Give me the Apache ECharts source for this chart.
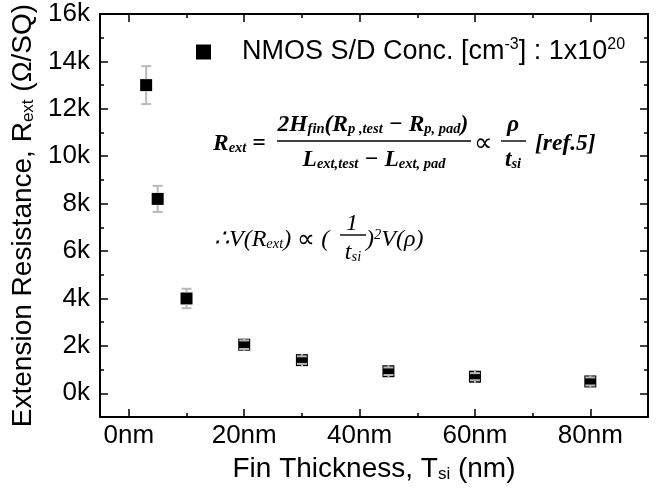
<!DOCTYPE html>
<html><head><meta charset="utf-8">
<script src="https://cdn.jsdelivr.net/npm/echarts@6/dist/echarts.min.js"></script>
<style>html,body{margin:0;padding:0;background:#fff}#c{width:659px;height:493px}</style>
</head><body><div id="c"></div>
<script>
// ---- data ----
const thickness = [3, 5, 10, 20, 30, 45, 60, 80];           // nm
const rext = [13000, 8200, 4000, 2050, 1400, 930, 700, 500];   // ohm/sq
const rextErr = [800, 550, 410, 180, 160, 160, 150, 170];
const xMajorTicks = [0, 20, 40, 60, 80];
const xMinorTicks = [10, 30, 50, 70, 90];
const yMajorTicks = [0, 2000, 4000, 6000, 8000, 10000, 12000, 14000, 16000];
const yMinorTicks = [1000, 3000, 5000, 7000, 9000, 11000, 13000, 15000];
const seriesName = 'NMOS S/D Conc. [cm-3] : 1x10^20';

const sans = '"Liberation Sans", Arial, Helvetica, sans-serif';
const serif = '"Liberation Serif", "Times New Roman", serif';

const chart = echarts.init(document.getElementById('c'), null, {renderer: 'canvas'});

function xAx(pos, ticks, len, extra) {
  return Object.assign({
    type: 'value', min: -5, max: 90, position: pos, gridIndex: 0,
    axisLine: {show: false, onZero: false},
    axisTick: {show: true, inside: true, length: len, customValues: ticks, lineStyle: {color: '#000', width: 1.5}},
    axisLabel: {show: false},
    splitLine: {show: false}
  }, extra || {});
}
function yAx(pos, ticks, len, extra) {
  return Object.assign({
    type: 'value', min: -1000, max: 16000, position: pos, gridIndex: 0,
    axisLine: {show: false, onZero: false},
    axisTick: {show: true, inside: true, length: len, customValues: ticks, lineStyle: {color: '#000', width: 1.5}},
    axisLabel: {show: false},
    splitLine: {show: false}
  }, extra || {});
}
const line = {show: true, onZero: false, lineStyle: {color: '#000', width: 2}};

const richMain = {fontFamily: serif, fontStyle: 'italic', fontWeight: 'bold', fontSize: 23.5, lineHeight: 24, color: '#000'};
const richSub = {fontFamily: serif, fontStyle: 'italic', fontWeight: 'bold', fontSize: 14.5, lineHeight: 11, verticalAlign: 'bottom', color: '#000'};
const richProp = {fontFamily: serif, fontSize: 26, lineHeight: 24, color: '#000'};
const rich1 = {m: richMain, s: richSub, q: richProp};
const richN = {fontFamily: serif, fontStyle: 'italic', fontSize: 24, lineHeight: 24, color: '#000'};
const richNs = {fontFamily: serif, fontStyle: 'italic', fontSize: 14.5, lineHeight: 10, verticalAlign: 'bottom', color: '#000'};
const richNp = {fontFamily: serif, fontStyle: 'italic', fontSize: 14.5, lineHeight: 10, verticalAlign: 'top', color: '#000'};
const richNq = {fontFamily: serif, fontSize: 25, lineHeight: 24, color: '#000'};
const rich2 = {n: richN, t: richNs, p: richNp, q: richNq};

function txt(x, baseline, text, rich, align, off) {
  return {type: 'text', z: 10, style: {x: x, y: baseline - (off || 18), text: text, rich: rich, align: align || 'left', verticalAlign: 'top'}};
}
function bar(x1, x2, y) {
  return {type: 'line', z: 10, shape: {x1: x1, y1: y, x2: x2, y2: y}, style: {stroke: '#000', lineWidth: 1.4}};
}

const option = {
  backgroundColor: '#fff',
  animation: false,
  grid: {left: 100, right: 11, top: 14, bottom: 76, containLabel: false},
  legend: {
    show: true, left: 191, top: 32, itemWidth: 15, itemHeight: 15, icon: 'rect',
    data: [seriesName],
    formatter: function () { return '{sp|}{a|NMOS S/D Conc. [cm}{sup|-3}{a|] : 1x10}{sup|20}'; },
    textStyle: {
      color: '#000', fontFamily: sans, fontSize: 27,
      rich: {
        sp: {width: 26},
        a: {fontFamily: sans, fontSize: 27, lineHeight: 30, color: '#000'},
        sup: {fontFamily: sans, fontSize: 16, lineHeight: 14, verticalAlign: 'top', color: '#000'}
      }
    }
  },
  xAxis: [
    xAx('bottom', xMajorTicks, 8, {
      axisLine: line,
      axisLabel: {show: true, customValues: xMajorTicks, formatter: v => v + 'nm', fontFamily: sans, fontSize: 26, color: '#000', margin: 6},
      name: 'Fin Thickness, T{sub|si} (nm)', nameLocation: 'middle', nameGap: 38,
      nameTextStyle: {fontFamily: sans, fontSize: 28, color: '#000',
        rich: {sub: {fontFamily: sans, fontSize: 17, lineHeight: 14, verticalAlign: 'bottom', color: '#000'}}}
    }),
    xAx('bottom', xMinorTicks, 4),
    xAx('top', xMajorTicks, 8, {axisLine: line}),
    xAx('top', xMinorTicks, 4)
  ],
  yAxis: [
    yAx('left', yMajorTicks, 8, {
      axisLine: line,
      axisLabel: {show: true, customValues: yMajorTicks, formatter: v => (v / 1000) + 'k', fontFamily: sans, fontSize: 26, color: '#000', margin: 10},
      name: 'Extension Resistance, R{sub|ext} (Ω/SQ)', nameLocation: 'middle', nameGap: 61, nameRotate: 90,
      nameTextStyle: {fontFamily: sans, fontSize: 28, color: '#000',
        rich: {sub: {fontFamily: sans, fontSize: 17, lineHeight: 14, verticalAlign: 'bottom', color: '#000'}}}
    }),
    yAx('left', yMinorTicks, 4),
    yAx('right', yMajorTicks, 8, {axisLine: line}),
    yAx('right', yMinorTicks, 4)
  ],
  series: [
    {
      name: seriesName, type: 'scatter', xAxisIndex: 0, yAxisIndex: 0,
      symbol: 'rect', symbolSize: 12, itemStyle: {color: '#000', opacity: 1}, z: 2,
      data: thickness.map((x, i) => [x, rext[i]])
    },
    {
      name: 'error', type: 'custom', xAxisIndex: 0, yAxisIndex: 0, z: 3,
      encode: {x: 0, y: 1},
      data: thickness.map((x, i) => [x, rext[i], rextErr[i]]),
      renderItem: function (params, api) {
        const x = api.value(0), v = api.value(1), e = api.value(2);
        const c = api.coord([x, v]);
        const top = api.coord([x, v + e])[1];
        const bot = api.coord([x, v - e])[1];
        const h = 6, cw = 5;
        const st = {stroke: '#b9b9b9', lineWidth: 2};
        return {type: 'group', children: [
          {type: 'line', shape: {x1: c[0], y1: top, x2: c[0], y2: c[1] - h}, style: st},
          {type: 'line', shape: {x1: c[0], y1: bot, x2: c[0], y2: c[1] + h}, style: st},
          {type: 'line', shape: {x1: c[0] - cw, y1: top, x2: c[0] + cw, y2: top}, style: st},
          {type: 'line', shape: {x1: c[0] - cw, y1: bot, x2: c[0] + cw, y2: bot}, style: st}
        ]};
      }
    }
  ],
  graphic: [
    // line 1
    txt(213, 150, '{m|R}{s|ext}{m| =}', rich1),
    txt(373, 131, '{m|2H}{s|fin}{m|(R}{s|p ,test}{m| − R}{s|p, pad}{m|)}', rich1, 'center'),
    bar(277, 471, 141),
    txt(374, 166, '{m|L}{s|ext,test}{m| − L}{s|ext, pad}', rich1, 'center'),
    txt(474, 150, '{q|∝}', rich1),
    txt(513, 131, '{m|ρ}', rich1, 'center'),
    bar(501, 526, 141),
    txt(513, 166, '{m|t}{s|si}', rich1, 'center'),
    txt(535, 150, '{m|[ref.5]}', rich1),
    // line 2
    txt(214, 246, '{n|∴V(R}{t|ext}{n|) }{q|∝}{n| (}', rich2),
    txt(352, 230, '{n|1}', rich2, 'center'),
    bar(340, 366, 235),
    txt(353, 259, '{n|t}{t|si}', rich2, 'center'),
    txt(366, 246, '{n|)}{p|2}{n|V(ρ)}', rich2)
  ]
};
chart.setOption(option);
</script></body></html>
